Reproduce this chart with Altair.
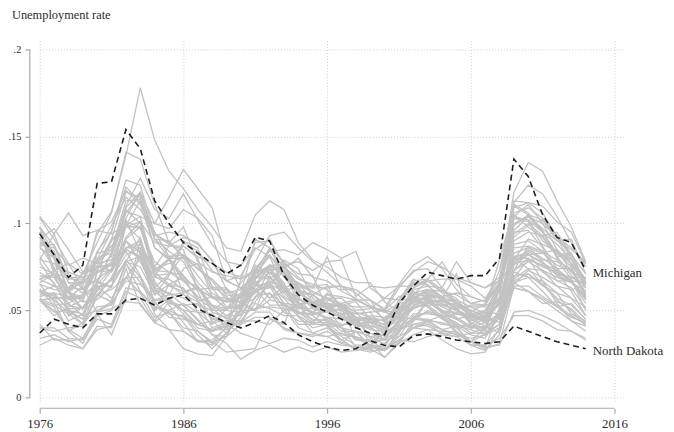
import altair as alt
import pandas as pd

years = list(range(1976, 2015))

# Highlighted states (percent)
michigan = [9.4, 8.2, 6.9, 7.6, 12.3, 12.4, 15.4, 14.3, 11.3, 10.0,
            8.9, 8.3, 7.7, 7.1, 7.6, 9.2, 9.0, 7.0, 5.9, 5.3,
            4.9, 4.5, 4.0, 3.7, 3.6, 5.4, 6.4, 7.2, 7.0, 6.8,
            7.0, 7.0, 8.0, 13.7, 12.7, 10.5, 9.2, 8.9, 7.3]
north_dakota = [3.7, 4.5, 4.2, 4.0, 4.8, 4.8, 5.6, 5.7, 5.3, 5.7,
                5.9, 5.1, 4.7, 4.3, 4.0, 4.3, 4.7, 4.3, 3.6, 3.2,
                2.9, 2.7, 2.8, 3.25, 3.0, 2.9, 3.55, 3.65, 3.5, 3.3,
                3.2, 3.1, 3.2, 4.1, 3.8, 3.5, 3.2, 3.0, 2.8]

# Other states (percent)
gray_states = {
    "Alabama": [6.8, 7.3, 6.3, 7.1, 8.9, 10.6, 14.1, 13.7, 11.1, 8.9, 9.8, 7.8, 7.2, 7.0, 6.8, 7.2, 7.3, 7.5, 6.0, 5.9, 5.1, 5.0, 4.4, 4.7, 4.6, 5.1, 5.9, 6.0, 5.7, 4.5, 4.0, 4.0, 5.7, 11.0, 10.5, 9.6, 8.0, 7.2, 6.8],
    "Alaska": [7.9, 9.4, 10.6, 9.3, 9.6, 9.4, 9.9, 10.4, 10.0, 9.7, 10.8, 10.3, 9.3, 6.7, 7.0, 8.5, 9.1, 7.6, 7.8, 7.3, 7.8, 7.9, 5.8, 6.4, 6.3, 6.4, 7.2, 7.8, 7.5, 6.9, 6.6, 6.3, 6.7, 7.7, 7.9, 7.6, 7.1, 6.9, 6.9],
    "Arizona": [9.8, 8.2, 6.1, 5.1, 6.7, 6.3, 9.9, 9.1, 5.0, 6.5, 6.9, 6.2, 6.3, 5.2, 5.3, 5.7, 7.4, 6.2, 6.3, 5.1, 5.5, 4.6, 4.1, 4.4, 4.0, 4.7, 6.1, 5.7, 5.0, 4.6, 4.1, 3.8, 6.2, 9.9, 10.4, 9.5, 8.3, 7.7, 6.8],
    "Arkansas": [6.8, 6.4, 6.3, 6.2, 7.6, 9.1, 9.8, 10.1, 8.9, 8.7, 8.7, 8.1, 7.7, 7.2, 6.9, 7.3, 7.2, 6.2, 5.3, 4.9, 5.4, 5.3, 5.5, 4.5, 4.4, 5.1, 5.4, 5.9, 5.7, 5.1, 5.3, 5.3, 5.5, 7.8, 8.2, 8.3, 7.6, 7.3, 6.0],
    "California": [9.2, 8.2, 7.1, 6.2, 6.8, 7.4, 9.9, 9.7, 7.8, 7.2, 6.7, 5.8, 5.3, 5.1, 5.8, 7.8, 9.3, 9.5, 8.6, 7.8, 7.2, 6.4, 6.0, 5.3, 4.9, 5.4, 6.7, 6.8, 6.2, 5.4, 4.9, 5.4, 7.3, 11.2, 12.2, 11.7, 10.4, 8.9, 7.5],
    "Colorado": [5.8, 6.0, 5.0, 4.8, 5.9, 5.5, 7.7, 6.6, 5.6, 5.9, 7.4, 7.7, 6.4, 5.8, 5.0, 5.0, 6.0, 5.3, 4.2, 4.2, 4.2, 3.3, 3.8, 2.9, 2.7, 3.8, 5.7, 6.1, 5.6, 5.1, 4.3, 3.9, 4.8, 7.3, 8.7, 8.4, 7.9, 6.8, 5.0],
    "Connecticut": [9.5, 7.1, 5.3, 5.1, 5.9, 6.2, 6.9, 6.0, 4.6, 4.9, 3.8, 3.3, 3.0, 3.7, 5.1, 6.8, 7.5, 6.3, 5.6, 5.5, 5.7, 5.1, 3.4, 3.2, 2.3, 3.1, 4.4, 5.5, 4.9, 4.9, 4.4, 4.6, 5.7, 7.9, 9.1, 8.8, 8.4, 7.9, 6.6],
    "Delaware": [8.8, 8.6, 7.6, 8.0, 7.7, 7.9, 8.5, 8.0, 6.2, 5.3, 4.3, 3.2, 3.2, 3.5, 5.1, 6.2, 5.3, 5.3, 4.9, 4.3, 5.2, 4.0, 3.8, 3.5, 3.3, 3.5, 4.0, 4.2, 3.9, 4.1, 3.6, 3.4, 4.9, 8.0, 8.0, 7.5, 7.2, 6.7, 5.7],
    "District of Columbia": [9.1, 9.7, 8.5, 7.2, 7.3, 9.0, 9.9, 11.3, 9.1, 8.4, 7.8, 6.3, 5.0, 5.0, 6.6, 7.4, 8.4, 8.5, 8.2, 8.9, 8.5, 8.0, 8.4, 6.3, 5.7, 6.4, 6.4, 6.8, 7.8, 6.5, 5.8, 5.5, 6.4, 9.2, 9.9, 10.2, 9.0, 8.5, 7.8],
    "Florida": [9.0, 8.2, 6.6, 6.0, 5.9, 6.8, 8.2, 8.6, 6.3, 6.0, 5.7, 5.3, 5.0, 5.6, 6.0, 7.3, 8.2, 7.0, 6.6, 5.5, 5.1, 4.8, 4.3, 3.9, 3.8, 4.7, 5.7, 5.2, 4.6, 3.7, 3.2, 4.0, 6.3, 10.4, 11.1, 10.0, 8.5, 7.2, 6.3],
    "Georgia": [8.1, 6.9, 5.6, 5.8, 6.4, 6.4, 7.8, 7.5, 5.9, 6.5, 5.9, 5.5, 5.8, 5.5, 5.5, 5.0, 7.0, 5.8, 5.2, 4.9, 4.6, 4.5, 4.2, 4.0, 3.5, 4.0, 4.8, 4.8, 4.7, 5.3, 4.7, 4.5, 6.2, 9.9, 10.5, 10.2, 9.2, 8.2, 7.1],
    "Hawaii": [9.8, 7.3, 7.7, 6.3, 4.9, 5.4, 6.7, 6.5, 5.6, 5.6, 4.8, 3.8, 3.2, 2.6, 2.7, 2.8, 4.5, 4.2, 6.1, 5.9, 6.4, 6.4, 6.2, 5.6, 4.3, 4.6, 4.0, 3.9, 3.3, 2.8, 2.5, 2.6, 4.0, 7.2, 6.9, 6.7, 6.0, 4.8, 4.4],
    "Idaho": [5.6, 5.7, 5.7, 5.7, 7.9, 8.7, 9.8, 9.8, 7.2, 7.9, 8.7, 8.0, 5.8, 5.1, 5.8, 6.1, 6.5, 6.1, 5.6, 5.4, 5.2, 5.3, 5.2, 5.2, 4.9, 5.0, 5.8, 5.3, 4.7, 3.8, 3.2, 2.8, 5.2, 8.8, 9.0, 8.4, 7.2, 6.1, 4.7],
    "Illinois": [6.5, 6.2, 6.1, 5.5, 8.3, 8.5, 11.3, 11.4, 9.1, 9.0, 8.1, 7.4, 6.8, 6.0, 6.2, 7.1, 7.6, 7.3, 5.7, 5.2, 5.3, 4.7, 4.5, 4.3, 4.5, 5.4, 6.5, 6.7, 6.1, 5.7, 4.6, 5.0, 6.4, 10.0, 10.4, 9.7, 9.0, 9.1, 7.1],
    "Indiana": [6.1, 5.7, 5.7, 6.4, 9.6, 10.1, 11.9, 11.1, 8.6, 7.9, 6.7, 6.4, 5.3, 4.7, 5.3, 6.0, 6.6, 5.4, 4.9, 4.7, 4.1, 3.5, 3.0, 3.0, 2.9, 4.2, 5.2, 5.3, 5.3, 5.4, 5.0, 4.6, 5.8, 10.4, 10.2, 9.0, 8.3, 7.5, 5.9],
    "Iowa": [4.0, 3.8, 4.0, 4.1, 5.8, 6.9, 8.5, 8.1, 7.0, 8.0, 7.0, 5.5, 4.5, 4.3, 4.2, 4.6, 4.6, 4.0, 3.7, 3.5, 3.8, 3.3, 2.8, 2.6, 2.8, 3.3, 4.0, 4.4, 4.7, 4.3, 3.7, 3.7, 4.2, 6.3, 6.1, 5.7, 5.2, 4.6, 4.3],
    "Kansas": [4.0, 4.0, 3.4, 3.3, 4.5, 4.2, 6.3, 6.1, 5.2, 5.0, 5.4, 4.9, 4.8, 4.0, 4.4, 4.4, 4.2, 5.0, 5.3, 4.4, 4.5, 3.8, 3.8, 3.0, 3.7, 4.3, 5.1, 5.5, 5.6, 5.1, 4.5, 4.1, 4.5, 7.0, 7.1, 6.5, 5.7, 5.3, 4.5],
    "Kentucky": [5.6, 4.7, 5.2, 5.6, 8.0, 8.3, 10.6, 11.7, 9.3, 9.5, 9.3, 8.8, 7.9, 6.2, 5.8, 7.4, 6.9, 6.2, 5.4, 5.4, 5.6, 5.4, 4.6, 4.5, 4.2, 5.6, 5.7, 6.2, 5.8, 6.0, 5.8, 5.5, 6.5, 10.3, 10.2, 9.5, 8.2, 8.3, 6.5],
    "Louisiana": [6.8, 7.1, 6.9, 6.6, 6.7, 8.3, 10.3, 11.8, 10.0, 11.5, 13.1, 12.0, 10.9, 7.9, 6.2, 7.1, 8.1, 7.4, 8.0, 6.9, 6.7, 6.1, 5.7, 5.2, 5.0, 5.8, 6.0, 6.2, 5.7, 7.1, 4.0, 4.3, 4.6, 6.8, 7.4, 7.3, 6.4, 6.2, 6.4],
    "Maine": [8.9, 8.4, 6.1, 7.2, 7.8, 7.2, 8.6, 9.0, 6.1, 5.4, 5.3, 4.4, 3.8, 4.1, 5.1, 7.6, 7.1, 7.9, 7.4, 5.7, 5.1, 5.4, 4.4, 4.1, 3.3, 3.9, 4.4, 5.0, 4.6, 4.8, 4.6, 4.7, 5.4, 8.1, 8.2, 7.7, 7.3, 6.7, 5.6],
    "Maryland": [7.0, 6.9, 5.7, 5.9, 6.5, 7.4, 8.4, 7.0, 5.5, 4.6, 4.5, 4.2, 4.4, 3.7, 4.6, 6.2, 6.7, 6.2, 5.1, 5.1, 4.9, 5.1, 4.6, 3.5, 3.6, 4.1, 4.5, 4.5, 4.2, 4.1, 3.9, 3.6, 4.6, 7.3, 7.8, 7.3, 6.9, 6.6, 5.8],
    "Massachusetts": [9.5, 8.1, 6.1, 5.5, 5.6, 6.4, 7.9, 6.9, 4.8, 3.9, 3.8, 3.2, 3.3, 4.0, 6.0, 9.1, 8.6, 6.9, 6.0, 5.4, 4.3, 4.0, 3.3, 3.3, 2.7, 3.7, 5.3, 5.8, 5.2, 4.8, 4.8, 4.5, 5.4, 8.1, 8.3, 7.2, 6.7, 6.7, 5.8],
    "Minnesota": [5.9, 5.9, 5.1, 4.2, 5.9, 5.5, 7.8, 8.1, 6.3, 6.0, 5.3, 5.4, 4.0, 4.3, 4.8, 5.1, 5.2, 5.1, 4.0, 3.7, 4.0, 3.3, 2.7, 2.8, 3.1, 3.8, 4.6, 4.9, 4.6, 4.2, 4.0, 4.6, 5.4, 8.0, 7.4, 6.5, 5.6, 5.0, 4.1],
    "Mississippi": [6.6, 7.1, 6.0, 5.8, 7.5, 8.1, 11.0, 12.6, 10.8, 10.3, 11.7, 10.2, 8.8, 7.8, 7.6, 8.6, 8.1, 6.3, 6.6, 6.1, 5.7, 5.7, 5.0, 5.1, 5.7, 5.6, 6.8, 6.4, 6.3, 7.8, 6.6, 6.3, 6.9, 9.6, 10.4, 10.0, 9.2, 8.6, 7.7],
    "Missouri": [6.1, 5.6, 4.9, 4.5, 7.2, 7.7, 9.1, 9.8, 7.0, 6.4, 6.1, 6.3, 5.7, 5.5, 5.8, 6.6, 5.7, 6.4, 4.9, 4.8, 4.6, 4.2, 4.2, 3.2, 3.3, 4.5, 5.5, 5.7, 5.8, 5.4, 4.8, 5.0, 6.1, 9.5, 9.6, 8.6, 7.0, 6.6, 6.1],
    "Montana": [6.1, 6.4, 6.0, 5.1, 6.1, 6.8, 8.6, 8.8, 7.4, 7.7, 8.1, 7.4, 6.8, 5.9, 5.8, 7.0, 6.9, 6.0, 5.1, 5.9, 5.3, 5.4, 5.6, 5.2, 4.9, 4.6, 4.5, 4.4, 4.3, 4.0, 3.2, 3.6, 5.1, 6.5, 7.3, 6.9, 6.4, 5.7, 4.7],
    "Nebraska": [3.0, 3.4, 3.0, 2.8, 4.1, 4.0, 6.1, 5.7, 4.4, 5.5, 5.0, 4.9, 3.6, 3.1, 2.2, 2.7, 3.0, 2.6, 2.9, 2.6, 2.9, 2.6, 2.7, 2.9, 2.8, 3.1, 3.6, 3.9, 3.8, 3.8, 3.0, 3.0, 3.4, 4.7, 4.7, 4.4, 3.9, 3.8, 3.3],
    "Nevada": [9.2, 8.0, 4.7, 5.2, 6.2, 7.3, 10.1, 9.8, 7.3, 8.0, 6.0, 6.3, 5.2, 5.0, 4.9, 5.5, 6.6, 7.2, 6.2, 5.4, 5.1, 4.6, 4.4, 4.5, 4.4, 5.4, 5.6, 5.2, 4.5, 4.1, 4.2, 4.7, 6.7, 11.8, 13.5, 13.0, 11.3, 9.8, 7.8],
    "New Hampshire": [6.5, 5.5, 3.8, 3.1, 4.7, 5.0, 7.4, 5.3, 4.3, 3.9, 2.8, 2.5, 2.4, 3.5, 5.6, 7.2, 7.4, 6.6, 4.6, 4.0, 4.2, 3.1, 2.9, 2.7, 2.7, 3.5, 4.7, 4.4, 3.9, 3.6, 3.4, 3.6, 4.0, 6.3, 6.1, 5.4, 5.5, 5.1, 4.3],
    "New Jersey": [10.4, 9.4, 7.2, 6.9, 7.2, 7.3, 9.0, 7.8, 6.2, 5.7, 5.0, 4.0, 3.8, 4.1, 5.0, 6.8, 8.5, 7.5, 6.8, 6.5, 6.2, 5.2, 4.6, 4.6, 3.7, 4.2, 5.8, 5.9, 4.8, 4.5, 4.7, 4.3, 5.5, 9.0, 9.5, 9.3, 9.5, 8.2, 6.6],
    "New Mexico": [8.6, 8.0, 6.2, 6.6, 7.5, 7.3, 9.2, 10.1, 7.5, 8.7, 9.2, 8.9, 7.8, 6.7, 6.3, 6.9, 6.8, 7.5, 6.3, 6.3, 8.1, 6.2, 6.2, 5.6, 5.0, 4.8, 5.5, 5.8, 5.7, 5.2, 4.2, 3.6, 4.2, 6.9, 7.9, 7.6, 7.1, 6.9, 6.5],
    "New York": [10.3, 9.1, 7.7, 7.1, 7.5, 7.6, 8.6, 8.6, 7.2, 6.5, 6.3, 4.9, 4.2, 5.1, 5.2, 7.2, 8.6, 7.8, 6.9, 6.3, 6.3, 6.4, 5.6, 5.2, 4.5, 4.9, 6.2, 6.4, 5.8, 5.0, 4.5, 4.5, 5.4, 8.3, 8.6, 8.3, 8.5, 7.7, 6.3],
    "North Carolina": [6.2, 5.8, 4.4, 4.8, 6.6, 6.4, 9.0, 8.3, 6.7, 5.4, 5.3, 4.5, 3.6, 3.5, 4.2, 5.8, 6.0, 4.9, 4.4, 4.3, 4.3, 3.6, 3.5, 3.2, 3.7, 5.6, 6.6, 6.5, 5.5, 5.3, 4.8, 4.7, 6.3, 10.6, 10.9, 10.3, 9.3, 8.0, 6.3],
    "Ohio": [7.8, 6.5, 5.4, 5.9, 8.4, 9.5, 12.5, 12.2, 9.4, 8.9, 8.1, 7.0, 6.0, 5.5, 5.7, 6.4, 7.2, 6.5, 5.5, 4.8, 4.9, 4.6, 4.3, 4.3, 4.0, 4.4, 5.7, 6.2, 6.1, 5.9, 5.4, 5.6, 6.6, 10.3, 10.1, 8.7, 7.4, 7.4, 5.7],
    "Oklahoma": [5.6, 5.0, 3.9, 3.4, 4.8, 3.6, 5.7, 9.0, 7.0, 7.1, 8.2, 7.4, 6.7, 5.6, 5.7, 6.7, 5.7, 6.1, 5.8, 4.7, 4.1, 4.1, 4.5, 3.4, 3.1, 3.8, 4.5, 5.6, 4.9, 4.5, 4.0, 4.1, 3.7, 6.6, 6.9, 6.1, 5.2, 5.4, 4.5],
    "Oregon": [9.5, 7.4, 6.0, 6.8, 8.3, 9.9, 11.5, 10.8, 9.4, 8.8, 8.5, 6.2, 5.8, 5.7, 5.5, 6.5, 7.5, 7.2, 5.4, 4.8, 5.9, 5.8, 5.6, 5.6, 5.1, 6.5, 7.6, 8.1, 7.4, 6.2, 5.4, 5.3, 6.5, 11.1, 10.6, 9.5, 8.8, 7.9, 6.8],
    "Pennsylvania": [7.9, 7.7, 6.9, 6.9, 7.8, 8.5, 10.9, 11.8, 9.1, 8.0, 6.8, 5.7, 5.1, 4.5, 5.4, 6.9, 7.6, 7.0, 6.2, 5.9, 5.3, 5.2, 4.6, 4.4, 4.2, 4.8, 5.7, 5.6, 5.4, 5.0, 4.6, 4.4, 5.4, 8.0, 8.4, 7.9, 7.8, 7.4, 5.8],
    "Rhode Island": [9.8, 8.7, 6.6, 6.6, 7.2, 7.6, 10.2, 8.3, 5.4, 4.9, 4.0, 3.8, 3.1, 4.1, 6.8, 8.9, 9.0, 7.7, 7.1, 7.0, 5.1, 5.3, 4.9, 4.1, 4.1, 4.7, 5.1, 5.4, 5.3, 5.1, 5.2, 5.2, 7.9, 10.9, 11.2, 11.0, 10.1, 9.5, 7.7],
    "South Carolina": [7.2, 6.6, 5.1, 5.1, 6.6, 8.3, 10.8, 10.0, 6.9, 6.8, 6.2, 5.6, 4.5, 4.7, 4.7, 6.2, 6.3, 7.6, 6.3, 5.1, 6.0, 5.3, 4.0, 4.3, 3.6, 5.2, 5.9, 6.7, 6.8, 6.8, 6.4, 5.7, 6.8, 11.3, 11.2, 10.6, 9.2, 7.6, 6.5],
    "South Dakota": [3.4, 3.6, 3.2, 3.4, 4.9, 5.1, 5.5, 5.4, 4.3, 5.0, 4.6, 4.2, 3.9, 4.2, 3.7, 3.4, 3.1, 3.4, 3.3, 2.9, 3.2, 3.0, 2.9, 2.9, 2.7, 3.3, 3.2, 3.5, 3.7, 3.7, 3.2, 2.9, 3.0, 4.9, 5.0, 4.7, 4.3, 3.8, 3.4],
    "Tennessee": [6.0, 6.0, 5.8, 5.8, 7.3, 9.1, 11.8, 11.5, 8.6, 8.0, 8.0, 6.6, 5.8, 5.1, 5.2, 6.4, 6.4, 5.7, 4.8, 5.2, 5.2, 5.3, 4.2, 4.1, 3.9, 4.6, 5.2, 5.6, 5.5, 5.6, 5.2, 4.8, 6.6, 10.5, 9.8, 9.2, 8.1, 8.2, 6.6],
    "Texas": [5.7, 5.3, 4.8, 4.2, 5.2, 5.3, 6.9, 8.0, 5.9, 7.0, 8.9, 8.4, 7.3, 6.7, 6.3, 6.9, 7.6, 7.2, 6.5, 6.0, 5.7, 5.4, 4.9, 4.6, 4.4, 4.9, 6.3, 6.7, 6.0, 5.4, 4.9, 4.3, 4.8, 7.6, 8.2, 7.8, 6.7, 6.3, 5.1],
    "Utah": [5.6, 5.2, 3.8, 4.3, 6.3, 6.7, 7.8, 9.2, 6.5, 5.9, 6.0, 6.4, 4.9, 4.6, 4.3, 4.9, 4.9, 3.9, 3.7, 3.6, 3.5, 3.1, 3.8, 3.7, 3.3, 4.4, 5.8, 5.6, 5.0, 4.1, 3.0, 2.7, 3.6, 7.3, 8.0, 6.7, 5.4, 4.4, 3.8],
    "Vermont": [8.7, 7.5, 5.7, 5.1, 6.4, 5.7, 6.9, 6.9, 5.2, 4.8, 4.7, 3.6, 2.8, 3.7, 5.0, 6.4, 6.6, 5.4, 4.7, 4.2, 4.6, 4.0, 3.4, 3.0, 2.7, 3.3, 4.0, 4.3, 3.6, 3.5, 3.7, 4.0, 4.7, 6.6, 6.1, 5.6, 5.0, 4.4, 4.1],
    "Virginia": [6.2, 5.3, 5.4, 4.7, 5.0, 5.5, 7.7, 6.1, 5.0, 5.6, 5.0, 4.2, 3.9, 3.9, 4.3, 5.8, 6.4, 5.1, 4.9, 4.5, 4.4, 4.0, 2.9, 2.8, 2.3, 3.2, 4.2, 4.1, 3.7, 3.5, 3.0, 3.0, 3.9, 6.7, 7.1, 6.4, 6.0, 5.7, 5.2],
    "Washington": [8.7, 8.8, 6.8, 6.8, 7.9, 9.6, 12.1, 11.2, 9.5, 8.1, 8.2, 7.6, 6.2, 6.2, 5.0, 6.4, 7.6, 7.6, 6.4, 6.4, 6.5, 4.8, 4.8, 4.9, 5.0, 6.3, 7.3, 7.4, 6.3, 5.5, 5.0, 4.7, 5.3, 9.4, 10.0, 9.3, 8.1, 7.0, 6.1],
    "West Virginia": [7.5, 7.1, 6.3, 6.7, 9.4, 10.7, 13.9, 17.8, 14.8, 13.0, 12.0, 10.8, 9.8, 8.6, 8.4, 10.5, 11.3, 10.8, 8.9, 7.9, 7.5, 6.9, 6.6, 6.6, 5.5, 4.9, 5.9, 6.0, 5.3, 5.0, 4.7, 4.6, 4.3, 7.7, 8.5, 8.0, 7.4, 6.7, 6.6],
    "Wisconsin": [5.6, 4.9, 5.0, 4.5, 7.2, 7.8, 10.7, 10.4, 7.3, 7.2, 7.0, 6.1, 4.3, 4.4, 4.4, 5.4, 5.1, 4.7, 4.7, 3.7, 3.5, 3.7, 3.4, 3.0, 3.4, 4.4, 5.3, 5.6, 5.0, 4.8, 4.7, 4.9, 4.8, 8.6, 8.7, 7.8, 7.0, 6.7, 5.4],
    "Wyoming": [4.2, 3.3, 3.3, 2.8, 3.9, 4.1, 5.8, 8.4, 6.3, 7.1, 9.0, 8.6, 6.3, 6.3, 5.4, 5.0, 5.6, 5.4, 5.3, 4.8, 5.0, 5.1, 4.8, 4.9, 3.9, 3.9, 4.2, 4.4, 3.9, 3.6, 3.2, 2.8, 3.1, 6.4, 6.4, 5.8, 5.3, 4.7, 4.2],
}

highlight_names = ["Michigan", "North Dakota"]
highlight_values = [michigan, north_dakota]

y_ticks = [0, 0.05, 0.1, 0.15, 0.2]
x_ticks = [1976, 1986, 1996, 2006, 2016]

gray_rows = []
for name, vals in gray_states.items():
    assert len(vals) == len(years), name
    for yr, v in zip(years, vals):
        gray_rows.append({"state": name, "year": yr, "rate": v / 100})
gray_df = pd.DataFrame(gray_rows)

hl_rows = []
for name, vals in zip(highlight_names, highlight_values):
    assert len(vals) == len(years), name
    for yr, v in zip(years, vals):
        hl_rows.append({"state": name, "year": yr, "rate": v / 100})
hl_df = pd.DataFrame(hl_rows)

label_df = pd.DataFrame({
    "state": highlight_names,
    "year": [years[-1]] * 2,
    "rate": [vals[-1] / 100 for vals in highlight_values],
})

FONT = "'Liberation Serif', 'Times New Roman', 'DejaVu Serif', serif"
AXIS_GRAY = "#a9a9a9"
TEXT = "#2b2b2b"

xscale = alt.Scale(domain=[1976, 2016.69], nice=False, zero=False)
yscale = alt.Scale(domain=[-0.0034, 0.2051], nice=False, zero=False)

xaxis = alt.Axis(values=x_ticks, format="d", title=None, grid=True,
                 gridDash=[1, 2], gridColor="#cdcdcd", gridWidth=1,
                 domain=False, tickSize=5, tickColor=AXIS_GRAY, tickWidth=1.2,
                 offset=5, labelFont=FONT, labelFontSize=13, labelColor=TEXT,
                 labelPadding=4, labelFlush=False)
yaxis = alt.Axis(values=y_ticks,
                 labelExpr="datum.value == 0 ? '0' : slice(format(datum.value, '.2~f'), 1)",
                 title=None, grid=True, gridDash=[1, 2], gridColor="#cdcdcd",
                 gridWidth=1, domain=False, tickSize=5, tickColor=AXIS_GRAY,
                 tickWidth=1.2, offset=10, labelFont=FONT, labelFontSize=10.5,
                 labelColor=TEXT, labelPadding=4)

gray = alt.Chart(gray_df).mark_line(color="#c2c2c2", strokeWidth=1.3).encode(
    x=alt.X("year:Q", scale=xscale, axis=xaxis),
    y=alt.Y("rate:Q", scale=yscale, axis=yaxis),
    detail="state:N",
)

hl = alt.Chart(hl_df).mark_line(color="#1f1f1f", strokeWidth=1.6, strokeDash=[6, 4]).encode(
    x=alt.X("year:Q", scale=xscale, axis=xaxis),
    y=alt.Y("rate:Q", scale=yscale, axis=yaxis),
    detail="state:N",
)

labels = alt.Chart(label_df).mark_text(align="left", baseline="middle", dx=7, dy=2.5,
                                       font=FONT, fontSize=13, color=TEXT).encode(
    x=alt.X("year:Q", scale=xscale, axis=xaxis),
    y=alt.Y("rate:Q", scale=yscale, axis=yaxis),
    text="state:N",
)

yline = alt.Chart(pd.DataFrame({"lo": [y_ticks[0]], "hi": [y_ticks[-1]]})).mark_rule(
    color=AXIS_GRAY, strokeWidth=1.2).encode(
    x=alt.value(-10),
    y=alt.Y("lo:Q", scale=yscale, axis=yaxis),
    y2="hi:Q",
)

xline = alt.Chart(pd.DataFrame({"lo": [x_ticks[0]], "hi": [x_ticks[-1]]})).mark_rule(
    color=AXIS_GRAY, strokeWidth=1.2).encode(
    y=alt.value(371),
    x=alt.X("lo:Q", scale=xscale, axis=xaxis),
    x2="hi:Q",
)

chart = alt.layer(gray, hl, labels, yline, xline).properties(
    width=590,
    height=366,
    autosize=alt.AutoSizeParams(type="none"),
    padding={"left": 32, "top": 31, "right": 42, "bottom": 26},
    title=alt.TitleParams("Unemployment rate", anchor="start", frame="group",
                          dx=-28, offset=19, font=FONT, fontSize=12.5,
                          fontWeight="normal", color=TEXT),
).configure(background="white").configure_view(stroke=None)

chart.save("out.html", embed_options={"renderer": "svg", "actions": False})
